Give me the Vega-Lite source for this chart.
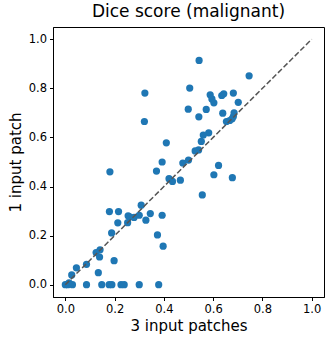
{
  "$schema": "https://vega.github.io/schema/vega-lite/v6.json",
  "width": 271,
  "height": 270,
  "autosize": "none",
  "padding": {"left": 53, "top": 27, "right": 8, "bottom": 47},
  "title": {"text": "Dice score (malignant)", "font": "DejaVu Sans", "fontSize": 17, "fontWeight": "normal", "color": "black", "anchor": "middle", "offset": 6},
  "config": {
    "view": {"stroke": "black", "strokeWidth": 1},
    "axis": {"labelFont": "DejaVu Sans", "labelFontSize": 11.5, "labelColor": "black", "labelPadding": 3, "tickColor": "black", "tickSize": 3.5, "domainColor": "black", "titleFont": "DejaVu Sans", "titleFontSize": 15, "titleFontWeight": "normal", "titleColor": "black", "grid": false}
  },
  "layer": [
    {
      "data": {"values": [
        {"x": 0.543, "y": 0.914}, {"x": 0.746, "y": 0.851}, {"x": 0.323, "y": 0.781}, {"x": 0.505, "y": 0.801},
        {"x": 0.588, "y": 0.774}, {"x": 0.595, "y": 0.757}, {"x": 0.603, "y": 0.741}, {"x": 0.635, "y": 0.771},
        {"x": 0.643, "y": 0.778}, {"x": 0.682, "y": 0.781}, {"x": 0.702, "y": 0.743}, {"x": 0.499, "y": 0.715},
        {"x": 0.572, "y": 0.714}, {"x": 0.542, "y": 0.684}, {"x": 0.639, "y": 0.699}, {"x": 0.685, "y": 0.700},
        {"x": 0.682, "y": 0.685}, {"x": 0.654, "y": 0.665}, {"x": 0.667, "y": 0.669}, {"x": 0.677, "y": 0.676},
        {"x": 0.321, "y": 0.665}, {"x": 0.582, "y": 0.619}, {"x": 0.560, "y": 0.610}, {"x": 0.552, "y": 0.584},
        {"x": 0.410, "y": 0.578}, {"x": 0.541, "y": 0.549}, {"x": 0.527, "y": 0.545}, {"x": 0.393, "y": 0.500},
        {"x": 0.477, "y": 0.496}, {"x": 0.500, "y": 0.508}, {"x": 0.181, "y": 0.460}, {"x": 0.370, "y": 0.463},
        {"x": 0.603, "y": 0.448}, {"x": 0.622, "y": 0.486}, {"x": 0.678, "y": 0.436}, {"x": 0.421, "y": 0.432},
        {"x": 0.435, "y": 0.421}, {"x": 0.467, "y": 0.426}, {"x": 0.556, "y": 0.366}, {"x": 0.179, "y": 0.298},
        {"x": 0.216, "y": 0.298}, {"x": 0.308, "y": 0.324}, {"x": 0.345, "y": 0.290}, {"x": 0.393, "y": 0.283},
        {"x": 0.213, "y": 0.252}, {"x": 0.255, "y": 0.281}, {"x": 0.261, "y": 0.277}, {"x": 0.253, "y": 0.253},
        {"x": 0.279, "y": 0.274}, {"x": 0.300, "y": 0.283}, {"x": 0.327, "y": 0.263}, {"x": 0.188, "y": 0.211},
        {"x": 0.374, "y": 0.203}, {"x": 0.397, "y": 0.157}, {"x": 0.125, "y": 0.131}, {"x": 0.141, "y": 0.142},
        {"x": 0.139, "y": 0.113}, {"x": 0.198, "y": 0.098}, {"x": 0.086, "y": 0.083}, {"x": 0.045, "y": 0.069},
        {"x": 0.026, "y": 0.040}, {"x": 0.134, "y": 0.049}, {"x": 0.0, "y": 0.0}, {"x": 0.015, "y": 0.008},
        {"x": 0.010, "y": 0.0}, {"x": 0.029, "y": 0.0}, {"x": 0.086, "y": 0.0}, {"x": 0.148, "y": 0.0},
        {"x": 0.178, "y": 0.0}, {"x": 0.189, "y": 0.0}, {"x": 0.226, "y": 0.0}, {"x": 0.239, "y": 0.0},
        {"x": 0.300, "y": 0.0}, {"x": 0.379, "y": 0.0}
      ]},
      "mark": {"type": "point", "filled": true, "opacity": 1, "color": "#1f77b4", "size": 52, "shape": "circle"},
      "encoding": {
        "x": {"field": "x", "type": "quantitative", "scale": {"domain": [-0.05, 1.05], "nice": false, "zero": false}, "axis": {"values": [0, 0.2, 0.4, 0.6, 0.8, 1.0], "format": ".1f", "title": "3 input patches", "titlePadding": 3}},
        "y": {"field": "y", "type": "quantitative", "scale": {"domain": [-0.05, 1.05], "nice": false, "zero": false}, "axis": {"values": [0, 0.2, 0.4, 0.6, 0.8, 1.0], "format": ".1f", "title": "1 input patch", "titlePadding": 5}}
      }
    },
    {
      "data": {"values": [{"x": 0, "y": 0}, {"x": 1, "y": 1}]},
      "mark": {"type": "line", "color": "#555555", "strokeWidth": 1.5, "strokeDash": [5.5, 2.4]},
      "encoding": {
        "x": {"field": "x", "type": "quantitative"},
        "y": {"field": "y", "type": "quantitative"}
      }
    }
  ]
}
